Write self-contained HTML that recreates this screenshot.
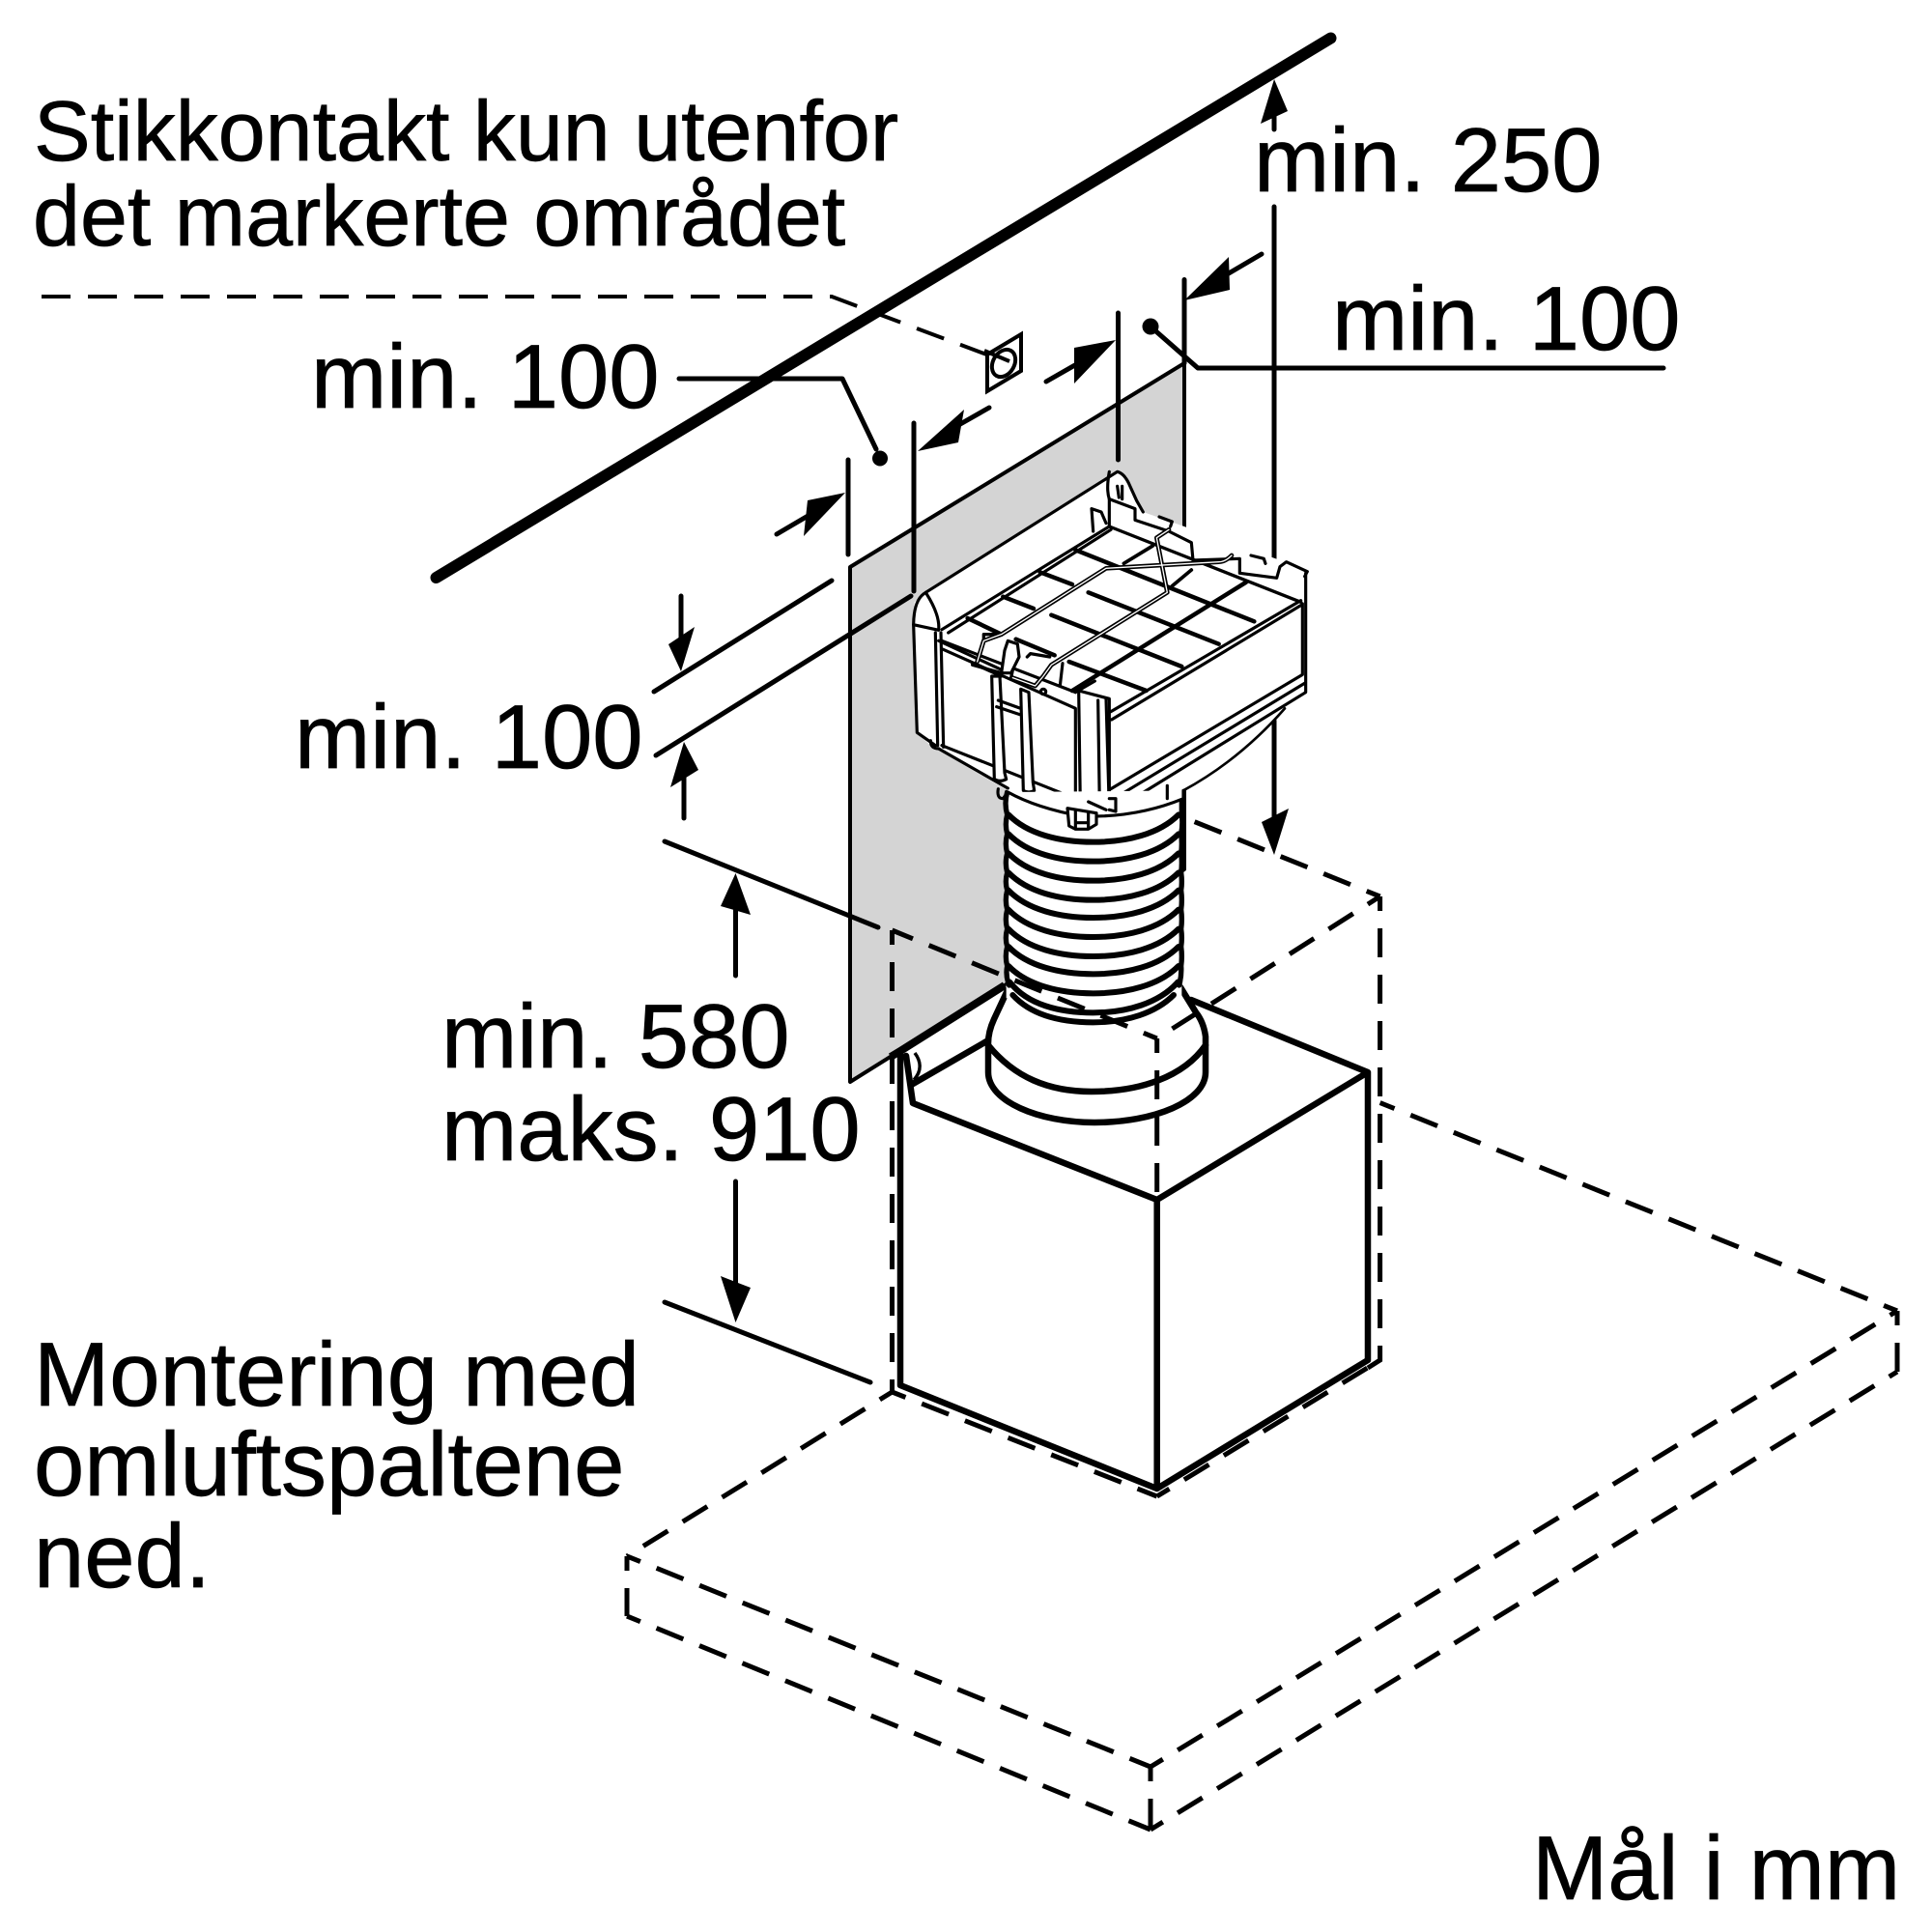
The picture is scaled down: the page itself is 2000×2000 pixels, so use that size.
<!DOCTYPE html>
<html><head><meta charset="utf-8"><style>
html,body{margin:0;padding:0;background:#fff}
svg{display:block}
text{font-family:"Liberation Sans",sans-serif;fill:#000;stroke:#000;stroke-width:.7}
.t{font-size:94px}
.d{fill:none;stroke:#000;stroke-width:5;stroke-dasharray:30 18;stroke-dashoffset:15}
.l{fill:none;stroke:#000;stroke-width:5;stroke-linecap:round;stroke-linejoin:round}
.b{fill:none;stroke:#000;stroke-width:6.5;stroke-linejoin:round;stroke-linecap:round}
.a{fill:#000;stroke:none}
.f path,.f polygon{stroke-linejoin:round;stroke-linecap:round}
</style></head><body>
<svg xmlns="http://www.w3.org/2000/svg" width="2000" height="2000" viewBox="0 0 2000 2000">
<rect width="2000" height="2000" fill="#fff"/>

<polygon points="880,587 1226,376 1226,900 1040,1020 880,1120" fill="#d4d4d4" stroke="#000" stroke-width="4" stroke-linejoin="round"/>

<line x1="451.5" y1="598" x2="1377.5" y2="39.5" stroke="#000" stroke-width="12" stroke-linecap="round"/>

<path class="d" style="stroke-dashoffset:0;stroke-width:4" d="M43,307H861L1040,374"/>
<g fill="none" stroke="#000" stroke-width="4">
<polygon points="1022,367 1057,346 1057,384 1022,405" fill="#fff"/>
<ellipse cx="1039" cy="376" rx="11" ry="15" transform="rotate(30 1039 376)"/>
<line x1="1019" y1="363" x2="1045" y2="374"/>
</g>

<path class="l" d="M703,392H872L907,465"/><circle cx="911" cy="474.5" r="8"/>
<path class="l" d="M1191,338L1240,381H1722"/><circle cx="1191" cy="338" r="8.5"/>
<path class="l" d="M878,476V574M946,438V612M1157.5,324V476M1226,289.5V376"/>
<path class="l" d="M804,553L850,526M1024,422L980,447M1083,395L1125,371M1306,263L1260,290"/>
<polygon class="a" points="875,510 836,518 832,555"/>
<polygon class="a" points="950,467 998,424 992,458"/>
<polygon class="a" points="1155,352 1112,360 1112,397"/>
<polygon class="a" points="1226,311 1272,266 1273,300"/>

<path class="l" d="M1319,134V110M1319,214V600M1319,746V850"/>
<polygon class="a" points="1319,82 1305,128 1333,115"/>
<polygon class="a" points="1319,885 1306,851 1334,837"/>

<path class="l" d="M677,716L861,601M679,782L943,617M705,617V660M708,847V805"/>
<polygon class="a" points="705,695 692,667 719,649"/>
<polygon class="a" points="708,768 694,815 723,797"/>

<path class="l" d="M688,871L909,960M688,1348L901,1431M761.5,1010V935M761.5,1223V1330"/>
<polygon class="a" points="761.5,904 746,938 777,947"/>
<polygon class="a" points="761.5,1369 746,1321 777,1333"/>

<!-- box -->
<polygon points="945,1142 1197.7,1242 1416,1110 1416,1408 1197.7,1541 932,1434 932,1090" fill="#fff"/>
<path class="b" d="M932,1090V1434L1197.7,1541L1416,1408V1110L1197.7,1242L945,1142L938,1093M1197.7,1242V1541M945,1122L1023,1077M1233,1035L1416,1110"/>
<path d="M1040,1020L932,1088L922,1094" stroke="#000" stroke-width="8" fill="none"/>
<path d="M947,1090c6,8 8,18 -1,28" fill="none" stroke="#000" stroke-width="3.5"/>

<!-- collar -->
<path d="M1043,1025L1029,1055Q1023,1068 1023,1080V1110C1023,1140 1075,1162 1133,1162C1195,1162 1248,1140 1248,1110V1073Q1246,1058 1238,1048L1222,1022Z" fill="#fff" stroke="#000" stroke-width="6.5" stroke-linejoin="round"/>
<path class="b" d="M1023,1082C1050,1115 1085,1130 1130,1130C1180,1130 1225,1115 1248,1082"/>

<!-- duct -->
<g transform="translate(900,800) scale(.33333)">
<rect x="425" y="60" width="545" height="640" fill="#fff"/>
<path fill="#fff" stroke="none" d="M430,640C520,800 880,800 965,640Z"/>
<g fill="none" stroke="#000" stroke-width="18" stroke-linecap="round">
<path d="M432,130C490,190 590,215 695,215C800,215 900,190 960,130"/>
<path d="M432,190C490,250 590,275 695,275C800,275 900,250 960,190"/>
<path d="M432,250C490,310 590,335 695,335C800,335 900,310 960,250"/>
<path d="M432,310C490,370 590,395 695,395C800,395 900,370 960,310"/>
<path d="M432,365C490,425 590,450 695,450C800,450 900,425 960,365"/>
<path d="M432,425C490,485 590,510 695,510C800,510 900,485 960,425"/>
<path d="M432,485C490,545 590,570 695,570C800,570 900,545 960,485"/>
<path d="M432,540C490,600 590,625 695,625C800,625 900,600 960,540"/>
<path d="M432,600C490,660 590,685 695,685C800,685 900,660 960,600"/>
<path d="M436,650C490,720 590,745 695,745C800,745 900,715 958,650"/>
<path d="M445,690C500,750 590,775 695,775C800,775 890,745 945,690"/>
<path stroke-width="16" d="M428,60q-10,35 0,70q-8,30 0,60q-8,30 0,60q-8,30 0,60q-8,28 0,55q-8,30 0,60q-8,30 0,60q-8,28 0,55q-8,30 0,60q-6,30 6,60"/>
<path stroke-width="16" d="M970,60v70q4,30 -2,60q4,30 0,60q4,30 0,60q4,28 0,55q4,30 0,60q4,30 0,60q4,28 0,55q4,30 0,60q2,30 -6,60"/>
</g>
</g>

<!-- dashed -->
<path class="d" d="M1428.6,928L1230,848"/>
<path class="d" d="M1428.6,928V1408L1402,1425"/>
<path class="d" d="M1428.6,928L1197.7,1075"/>
<path class="d" d="M1197.7,1075V1242"/>
<path class="d" d="M1197.7,1075L923.5,963"/>
<path class="d" d="M923.5,963V1441"/>
<path class="d" d="M923.5,1441L1197.7,1549"/>
<path class="d" d="M1197.7,1549L1428.6,1408"/>
<path class="d" d="M923.5,1441L649,1611"/>
<path class="d" d="M649,1611V1673"/>
<path class="d" d="M649,1611L1191,1829"/>
<path class="d" d="M649,1673L1191,1894"/>
<path class="d" d="M1191,1829V1894"/>
<path class="d" d="M1191,1829L1964,1357"/>
<path class="d" d="M1191,1894L1964,1420"/>
<path class="d" d="M1964,1357V1420"/>
<path class="d" d="M1964,1357L1428.6,1141.6"/>

<!-- filter -->
<g class="f" transform="translate(900,450) scale(.33333)" fill="none" stroke="#000" stroke-width="9.5">
<path fill="#fff" stroke="none" d="M137,590L140,520L180,485L770,115L800,130L830,205L850,240L1290,395L1360,425L1355,800L1290,850Q1150,1010 975,1105L975,1130Q830,1190 660,1190Q520,1160 420,1100L190,965L145,925Z"/>
<path d="M175,490L770,115Q790,120 805,150L830,205L850,240"/>
<path d="M175,490Q138,510 137,590L215,607Q220,560 175,490"/>
<path d="M137,590L148,925L205,965M190,950Q190,975 215,975"/>
<path d="M205,615L212,965M222,615L230,970"/>
<path d="M215,975L395,1078L430,1098"/>
<path d="M225,605L745,285M245,615L750,295"/>
<path d="M745,285L1340,520" stroke-width="10"/>
<path d="M745,200L745,285M690,230L695,300M690,230L720,240L735,275M745,200L825,230L825,265L930,300L1000,335L1005,390L1150,385V430L1265,445L1275,410L1295,395L1360,425L1352,440"/>
<path d="M745,115Q735,170 745,200M770,160L775,195M785,160L785,200"/>
<path d="M1185,375L1225,385L1230,400M900,255L940,270L935,285"/>
<path d="M1355,430V800L755,1170M1345,525V745L750,1100M1355,770L752,1135"/>
<path d="M750,860L1340,515M752,885L1340,530"/>
<path d="M1290,850Q1150,1010 975,1105" stroke-width="8"/>
<path d="M225,640L640,800M225,665L640,850L640,1130L225,965"/>
<path d="M215,640L410,730"/>
<path d="M320,710L410,750"/>
<!-- grid -->
<g stroke-width="13.5">
<path d="M305,570L410,620M455,635L575,685M620,705L860,795"/>
<path d="M415,503L510,540M565,560L970,720"/>
<path d="M530,427L630,465M680,490L1085,650"/>
<path d="M640,358L1195,580"/>
<path d="M630,795L1170,458"/>
</g>
<path d="M790,400L880,345M940,470L1000,420" stroke-width="11"/>
<!-- clips -->
<path fill="#fff" d="M650,795L745,820L745,1165L655,1150Z"/>
<path d="M710,825L715,1155M735,820L745,1165"/>
<path fill="#fff" d="M380,750L388,1070Q405,1080 425,1070L420,1050L405,750Z"/>
<path fill="#fff" d="M470,790L478,1105Q495,1115 512,1105L508,1080L495,800Z"/>
<path d="M395,845L470,870M400,825L470,850"/>
<path d="M600,710L592,780M640,800L700,765"/>
<path fill="#fff" d="M430,640L460,650L465,690L440,740L410,740L420,670Z"/>
<circle cx="540" cy="798" r="8"/>
<!-- wires -->
<g stroke-width="14">
<path d="M335,705L355,640L410,620L735,415L1085,395Q1105,395 1125,375"/>
<path d="M445,755L515,780L540,750L565,715L925,490L892,320L930,295"/>
</g>
<g stroke-width="10">
<path d="M355,640L355,620L410,620M490,690L500,680L560,690"/>
<path d="M320,715L410,740"/>
<path d="M445,730L440,755"/>
</g>
<g stroke="#fff" stroke-width="4">
<path d="M335,705L355,640L410,620L735,415L1085,395Q1105,395 1125,375"/>
<path d="M445,755L515,780L540,750L565,715L925,490L892,320L930,295"/>
</g>
<!-- underside -->
<path fill="#fff" d="M430,1110Q520,1160 660,1185Q830,1190 975,1130L975,1105"/>
<path d="M400,1100Q395,1130 415,1130L430,1110"/>
<path d="M925,1090V1130"/>
<path fill="#fff" d="M615,1160L620,1215L640,1225H680L705,1210L705,1175Z"/>
<path d="M640,1170V1220M680,1175V1220M640,1205H680"/>
<path d="M680,1140L735,1165"/>
<path d="M745,1130H765V1170L745,1165"/>
</g>

<!-- text -->
<text x="35" y="166" style="font-size:88px">Stikkontakt kun utenfor</text>
<text x="34" y="254" style="font-size:88px">det markerte området</text>
<text class="t" x="322" y="422">min. 100</text>
<text class="t" x="305" y="795">min. 100</text>
<text class="t" x="1298" y="198">min. 250</text>
<text class="t" x="1379" y="362">min. 100</text>
<text class="t" x="457" y="1105">min. 580</text>
<text class="t" x="457" y="1201">maks. 910</text>
<text class="t" x="35" y="1455">Montering med</text>
<text class="t" x="35" y="1548">omluftspaltene</text>
<text class="t" x="35" y="1643">ned.</text>
<text class="t" x="1586" y="1966">Mål i mm</text>
</svg>
</body></html>
